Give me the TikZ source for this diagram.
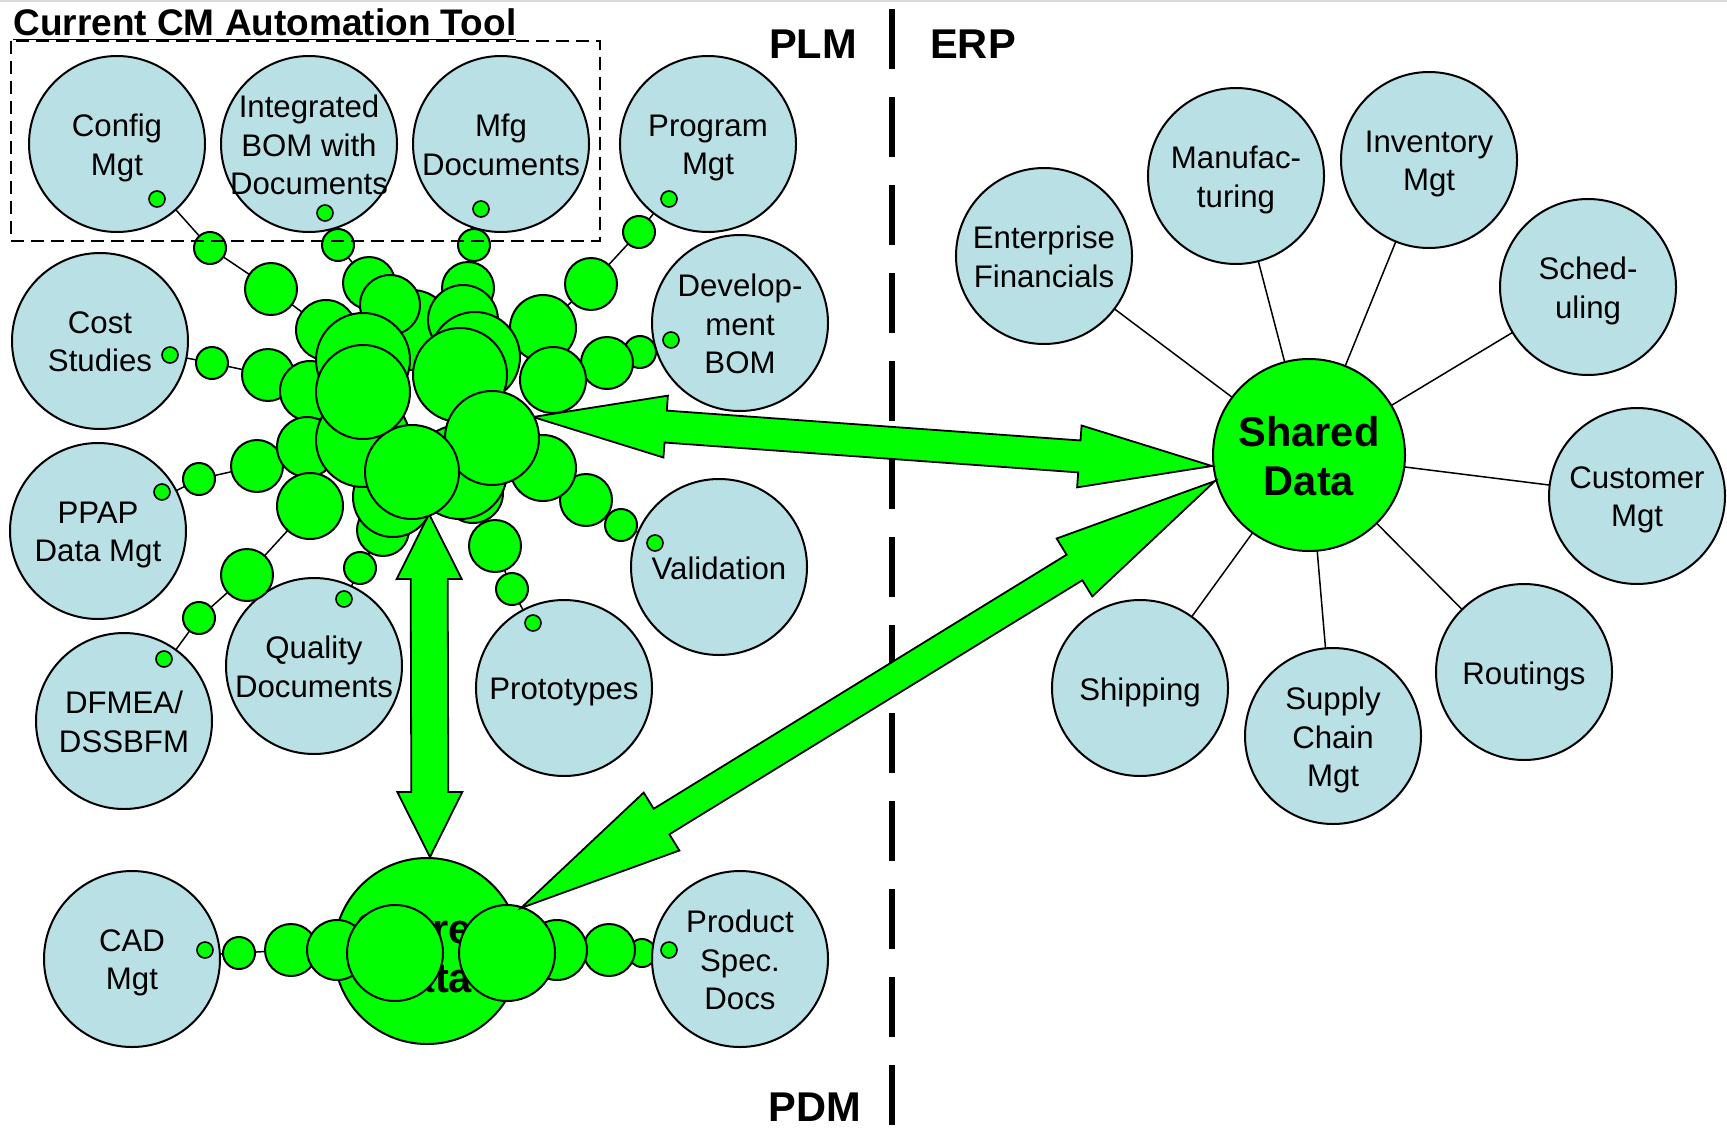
\documentclass[tikz,border=0pt]{standalone}
\usepackage{fontspec}
\setmainfont{Liberation Sans}
\usetikzlibrary{calc,backgrounds}
\definecolor{lblue}{RGB}{185,224,228}
\definecolor{brightgreen}{RGB}{0,255,0}
\tikzset{
  bluec/.style={circle,draw=black,line width=1pt,fill=lblue,minimum size=88pt,inner sep=0pt},
  btxt/.style={align=center,inner sep=0pt,yshift=-2pt,font=\fontsize{15.6}{19.3}\selectfont},
  bub/.style={circle,draw=black,line width=1pt,fill=brightgreen,inner sep=0pt},
  dotn/.style={circle,draw=black,line width=0.8pt,fill=brightgreen,inner sep=0pt,minimum size=8pt},
  sharedc/.style={circle,draw=black,line width=1pt,fill=brightgreen,inner sep=0pt},
  stxt/.style={align=center,inner sep=0pt,font=\bfseries\fontsize{20.8}{24.8}\selectfont},
  link/.style={line width=0.75pt,draw=black},
  bigarrow/.style={fill=brightgreen,draw=black,line width=0.9pt,line join=miter},
  hdr/.style={inner sep=0pt,font=\bfseries\fontsize{20.8}{24}\selectfont},
  cmbox/.style={draw=black,line width=1.3pt,dash pattern=on 6.5pt off 3.5pt},
  divider/.style={draw=black,line width=3.3pt,dash pattern=on 30pt off 14pt},
}
\newcommand{\bcirc}[3]{\node[bluec] (#1) at (#2) {}; \node[btxt] (#1t) at (#1.center) {#3\vphantom{g}};}
\newcommand{\dblarrow}[5]{%
  \filldraw[bigarrow] (#1)
   -- ($(#1)!#3!(#2)!#4!90:(#2)$)
   -- ($(#1)!#3!(#2)!#5!90:(#2)$)
   -- ($(#2)!#3!(#1)!#5!-90:(#1)$)
   -- ($(#2)!#3!(#1)!#4!-90:(#1)$)
   -- (#2)
   -- ($(#2)!#3!(#1)!#4!90:(#1)$)
   -- ($(#2)!#3!(#1)!#5!90:(#1)$)
   -- ($(#1)!#3!(#2)!#5!-90:(#2)$)
   -- ($(#1)!#3!(#2)!#4!-90:(#2)$)
   -- cycle;}
\begin{document}
\begin{tikzpicture}[x=0.5pt,y=-0.5pt]
\useasboundingbox (0,0) rectangle (1727,1129);

% ---- bottom PDM shared data ----
\node[sharedc,minimum size=93pt] (sd2) at (427,951) {};
\node[stxt] (sd2t) at (427,953) {Shared\\Data};
\foreach \nm/\px/\py/\rr in {bt1/239/953/16, bt2/291/950/26, bt3/337/950/30, bt4/395/953/48,
  bt8/642/953/14, bt7/609/950/26, bt6/557/950/30, bt5/507/953/48}
  {\node[bub,minimum size=\rr pt] (\nm) at (\px,\py) {};}

% ---- blue circles ----
\bcirc{config}{117,144}{Config\\Mgt}
\bcirc{intbom}{309,144}{Integrated\\BOM with\\Documents}
\bcirc{mfg}{501,144}{Mfg\\Documents}
\bcirc{program}{708,144}{Program\\Mgt}
\bcirc{devbom}{740,323}{Develop-\\ment\\BOM}
\bcirc{cost}{100,341}{Cost\\Studies}
\bcirc{ppap}{98,531}{PPAP\\Data Mgt}
\bcirc{dfmea}{124,721}{DFMEA/\\DSSBFM}
\bcirc{quality}{314,666}{Quality\\Documents}
\bcirc{proto}{564,688}{Prototypes}
\bcirc{valid}{719,567}{Validation}
\bcirc{cad}{132,959}{CAD\\Mgt}
\bcirc{prodspec}{740,959}{Product\\Spec.\\Docs}

\bcirc{enterprise}{1044,256}{Enterprise\\Financials}
\bcirc{manufac}{1236,176}{Manufac-\\turing}
\bcirc{inventory}{1429,160}{Inventory\\Mgt}
\bcirc{sched}{1588,287}{Sched-\\uling}
\bcirc{customer}{1637,496}{Customer\\Mgt}
\bcirc{routings}{1524,672}{Routings}
\bcirc{supply}{1333,736}{Supply\\Chain\\Mgt}
\bcirc{shipping}{1140,688}{Shipping}

\node[sharedc,minimum size=96pt] (sd1) at (1309,455) {};
\node[stxt] (sd1t) at (1309,456) {Shared\\Data};

% ---- divider ----
\coordinate (divtop) at (892,9);
\coordinate (divbot) at (892,1129);
\draw[divider] (divtop) -- (divbot);

% ---- big arrows ----
\coordinate (h1a) at (533,417); \coordinate (h1b) at (1212,466);
\coordinate (v1a) at (429,514); \coordinate (v1b) at (430,857);
\coordinate (d1a) at (1215,481); \coordinate (d1b) at (521,908);
\dblarrow{h1a}{h1b}{66.5pt}{15.5pt}{8pt}
\dblarrow{v1a}{v1b}{32.5pt}{16.25pt}{9.25pt}
\dblarrow{d1a}{d1b}{82.5pt}{17pt}{7.5pt}

% ---- chain bubbles ----
\foreach \nm/\px/\py/\rr in {
  cf1/210/248/16, cf2/271/289/26,
  ib1/338/245/16, ib2/369/283/26,
  mf1/474/245/16, mf2/468/288/26,
  pg1/639/232/16, pg2/591/284/26,
  db1/640/352/16, db2/607/363/26,
  cs1/212/363/16, cs2/268/375/26,
  pp1/199/479/16, pp2/257/466/26,
  df1/199/618/16, df2/247/575/26,
  qd1/360/568/16, qd2/383/530/26,
  pt1/512/589/16, pt2/495/546/26,
  vl1/621/525/16, vl2/586/500/26,
  k1/393/497/40, k2/473/493/30, k3/412/330/40,
  cf3/326/330/30, ib3/390/305/30, mf3/463/320/35, pg3/543/328/33,
  db3/553/380/33, cs3/310/391/30, pp3/307/447/30, df3/310/506/33, vl3/543/468/33,
  c2/363/440/47, c3/363/360/47, c1/475/357/45, c4/460/375/47,
  c6/460/472/47, c7/492/438/47, c5/412/472/47, c8/363/392/47}
  {\node[bub,minimum size=\rr pt] (\nm) at (\px,\py) {};}

% ---- small dots ----
\foreach \nm/\px/\py in {dcf/157/199, dib/325/213, dmf/481/209, dpg/669/199, ddb/671/340,
  dcs/170/355, dpp/162/492, ddf/164/659, dqd/344/599, dpt/533/623, dvl/655/543,
  dcad/205/950, dps/669/950}
  {\node[dotn] (\nm) at (\px,\py) {};}

% ---- box, title, headers ----
\coordinate (boxa) at (11,41); \coordinate (boxb) at (600,241);
\draw[cmbox] (boxa) rectangle (boxb);
\node[anchor=base west,inner sep=0pt,font=\bfseries\fontsize{18.5}{22}\selectfont] (title) at (13,36) {\underline{Current CM Automation Tool}};
\node[hdr] (plm) at (813,44) {PLM};
\node[hdr] (erp) at (973,44) {ERP};
\node[hdr] (pdm) at (815,1107) {PDM};

% ---- background: connectors ----
\begin{pgfonlayer}{background}
\fill[white] (0,0) rectangle (1727,1129);
\draw[gray!30,line width=1pt] (0,1) -- (1727,1);
\draw[link] (config.center) -- (cf1.center) -- (cf2.center) -- (cf3.center);
\draw[link] (intbom.center) -- (ib1.center) -- (ib2.center) -- (ib3.center);
\draw[link] (mfg.center) -- (mf1.center) -- (mf2.center) -- (mf3.center);
\draw[link] (program.center) -- (pg1.center) -- (pg2.center) -- (pg3.center);
\draw[link] (devbom.center) -- (db1.center) -- (db2.center) -- (db3.center);
\draw[link] (cost.center) -- (cs1.center) -- (cs2.center) -- (cs3.center);
\draw[link] (ppap.center) -- (pp1.center) -- (pp2.center) -- (pp3.center);
\draw[link] (dfmea.center) -- (df1.center) -- (df2.center) -- (df3.center);
\draw[link] (quality.center) -- (qd1.center) -- (qd2.center) -- (k1.center);
\draw[link] (proto.center) -- (pt1.center) -- (pt2.center) -- (k2.center);
\draw[link] (valid.center) -- (vl1.center) -- (vl2.center) -- (vl3.center);
\draw[link] (cad.center) -- (bt1.center) -- (bt2.center) -- (bt3.center) -- (bt4.center)
  -- (bt5.center) -- (bt6.center) -- (bt7.center) -- (bt8.center) -- (prodspec.center);
\foreach \t in {enterprise,manufac,inventory,sched,customer,routings,supply,shipping}
  {\draw[link] (sd1.center) -- (\t.center);}
\end{pgfonlayer}
\end{tikzpicture}
\end{document}
